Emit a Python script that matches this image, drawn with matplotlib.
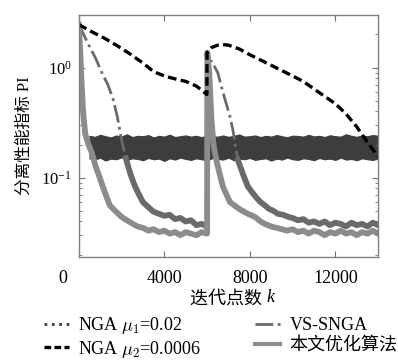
import numpy as np
import matplotlib
matplotlib.use("Agg")
import matplotlib.pyplot as plt
from matplotlib.lines import Line2D
from matplotlib.transforms import ScaledTranslation

plt.rcParams['font.family'] = ['Liberation Serif', 'DejaVu Serif', 'Noto Sans CJK SC']
plt.rcParams['mathtext.fontset'] = 'cm'

# NGA mu1=0.02 : noisy band, upper / lower envelope
nga1_k = np.arange(500, 14001, 250)
nga1_hi = [0.24, 0.235, 0.245, 0.238, 0.232, 0.242, 0.236, 0.248, 0.234, 0.24,
           0.238, 0.244, 0.232, 0.24, 0.236, 0.246, 0.234, 0.238, 0.242, 0.236,
           0.24, 0.233, 0.245, 0.238, 0.236, 0.242, 0.235, 0.24, 0.247, 0.236,
           0.238, 0.242, 0.234, 0.24, 0.236, 0.244, 0.238, 0.233, 0.241, 0.239,
           0.236, 0.245, 0.237, 0.24, 0.234, 0.243, 0.238, 0.236, 0.248, 0.24,
           0.235, 0.242, 0.238, 0.244, 0.24]
nga1_lo = [0.15, 0.146, 0.152, 0.143, 0.149, 0.147, 0.153, 0.145, 0.15, 0.148,
           0.144, 0.151, 0.147, 0.149, 0.142, 0.15, 0.146, 0.152, 0.148, 0.145,
           0.15, 0.147, 0.143, 0.151, 0.148, 0.146, 0.152, 0.144, 0.149, 0.147,
           0.151, 0.145, 0.148, 0.15, 0.143, 0.149, 0.146, 0.152, 0.147, 0.145,
           0.15, 0.148, 0.144, 0.151, 0.147, 0.149, 0.145, 0.152, 0.146, 0.148,
           0.144, 0.15, 0.147, 0.145, 0.149]

# NGA mu2=0.0006
nga2_k = [0, 600, 1200, 1800, 2400, 3000, 3500, 4000, 4500, 5000, 5500, 5990,
          6000, 6200, 6500, 6740, 7000, 7500, 8000, 9000, 10000, 10500, 11000,
          12000, 12500, 13000, 13500, 14000]
nga2_pi = [2.46, 2.12, 1.85, 1.58, 1.33, 1.1, 0.92, 0.84, 0.79, 0.75, 0.68, 0.57,
           1.37, 1.52, 1.6, 1.62, 1.6, 1.48, 1.31, 1.05, 0.84, 0.75, 0.64,
           0.47, 0.38, 0.29, 0.21, 0.155]

# VS-SNGA
vs_k = [0, 150, 400, 800, 1100, 1360, 1600, 1800, 2000, 2200, 2400, 2600, 2800,
        3000, 3250, 3500, 3750, 4000, 4250, 4500, 4750, 5000, 5250, 5500, 5750, 5990,
        6000, 6010, 6230, 6500, 6740, 7070, 7210, 7440, 7700, 7910,
        8100, 8300, 8500, 8700, 8900, 9100, 9300, 9550, 9800, 10000,
        10250, 10500, 10750, 11000, 11250, 11500, 11750, 12000, 12250, 12500,
        12750, 13000, 13250, 13500, 13750, 14000]
vs_pi = [2.46, 2.15, 1.7, 1.2, 0.88, 0.7, 0.52, 0.36, 0.22, 0.15, 0.11, 0.086, 0.071,
         0.06, 0.054, 0.049, 0.047, 0.045, 0.046, 0.042, 0.043, 0.04, 0.041, 0.037, 0.038, 0.036,
         0.036, 1.2, 1.13, 0.9, 0.6, 0.36, 0.27, 0.145, 0.105, 0.083,
         0.074, 0.066, 0.06, 0.056, 0.052, 0.05, 0.047, 0.046, 0.044, 0.043,
         0.041, 0.042, 0.039, 0.04, 0.038, 0.04, 0.037, 0.039, 0.038, 0.036,
         0.039, 0.037, 0.038, 0.036, 0.039, 0.037]

# proposed algorithm
our_k = [0, 60, 120, 200, 300, 450, 600, 800, 980, 1150,
         1310, 1450, 1700, 2000, 2250, 2530, 2750, 3000, 3250, 3500,
         3750, 4000, 4250, 4500, 4750, 5000, 5250, 5500, 5750, 5990,
         6000, 6010, 6100, 6200, 6300, 6460, 6740, 7070, 7500, 7900,
         8240, 8500, 8700, 9000, 9250, 9500, 9750, 10000, 10250, 10500,
         10750, 11000, 11250, 11500, 11750, 12000, 12250, 12500, 12750, 13000,
         13250, 13500, 13750, 14000]
our_pi = [2.46, 1.5, 0.8, 0.4, 0.25, 0.2, 0.17, 0.125, 0.1, 0.08,
          0.066, 0.056, 0.05, 0.044, 0.041, 0.038, 0.036, 0.035, 0.033, 0.034,
          0.032, 0.033, 0.031, 0.032, 0.03, 0.032, 0.031, 0.03, 0.032, 0.031,
          0.031, 1.37, 0.9, 0.35, 0.2, 0.137, 0.083, 0.06, 0.052, 0.047,
          0.044, 0.04, 0.038, 0.036, 0.035, 0.034, 0.033, 0.034, 0.032, 0.033,
          0.031, 0.033, 0.032, 0.03, 0.032, 0.031, 0.033, 0.031, 0.032, 0.03,
          0.032, 0.031, 0.033, 0.031]

labels = [r'NGA $\mu_1$=0.02', r'NGA $\mu_2$=0.0006', 'VS-SNGA', '本文优化算法']
c_nga1 = '#3d3d3d'
c_vs = '#6a6a6a'
c_our = '#8c8c8c'

fig = plt.figure(figsize=(3.98, 3.6), dpi=100)
ax = fig.add_axes([0.198, 0.286, 0.752, 0.672])

ax.fill_between(nga1_k, nga1_lo, nga1_hi, color=c_nga1, lw=0.8, edgecolor=c_nga1)

vs_pi = np.array(vs_pi)
ax.plot(vs_k, vs_pi, color=c_vs, lw=2, ls='-.')
ax.plot(vs_k, np.where(vs_pi < 0.2, vs_pi, np.nan), color=c_vs, lw=4.2)

ax.plot(our_k, our_pi, color=c_our, lw=4.2)

ax.plot(nga2_k, nga2_pi, color='black', lw=2.4, ls=(0, (2.6, 1.3)))

ax.set_yscale('log')
ax.set_xlim(0, 14000)
ax.set_ylim(0.019, 3.0)
ax.set_xticks([0, 4000, 8000, 12000])
ax.tick_params(which='both', direction='in', top=True, right=True, colors='#707070')
ax.tick_params(which='major', length=4, labelsize=13, labelcolor='black')
ax.tick_params(which='minor', length=2)
ax.tick_params(axis='x', pad=9)
ax.tick_params(axis='y', labelsize=12, pad=5)
for s in ax.spines.values():
    s.set_color('#808080')
    s.set_linewidth(1)

fig.canvas.draw()
lab0 = ax.get_xticklabels()[0]
lab0.set_transform(lab0.get_transform() + ScaledTranslation(-0.16, 0, fig.dpi_scale_trans))

xl = ax.set_xlabel('迭代点数 ', fontsize=13, labelpad=3)
ax.annotate('k', xy=(1, 0.5), xycoords=xl, xytext=(0, 1), textcoords='offset points',
            ha='left', va='center', fontsize=13, style='italic')
ax.set_ylabel('分离性能指标 PI', fontsize=12, labelpad=6)

handles = [Line2D([], [], color=c_nga1, lw=2, ls=':'),
           Line2D([], [], color='black', lw=2.4, ls=(0, (2.0, 1.0))),
           Line2D([], [], color=c_vs, lw=2, ls='-.'),
           Line2D([], [], color=c_our, lw=3)]
fig.legend(handles, labels, loc='upper left', bbox_to_anchor=(0.11, 0.125),
           ncol=2, frameon=False, fontsize=13, handlelength=1.4,
           handletextpad=0.5, columnspacing=3.0, labelspacing=0.15,
           borderpad=0, borderaxespad=0)

fig.savefig('out.png', dpi=100)
